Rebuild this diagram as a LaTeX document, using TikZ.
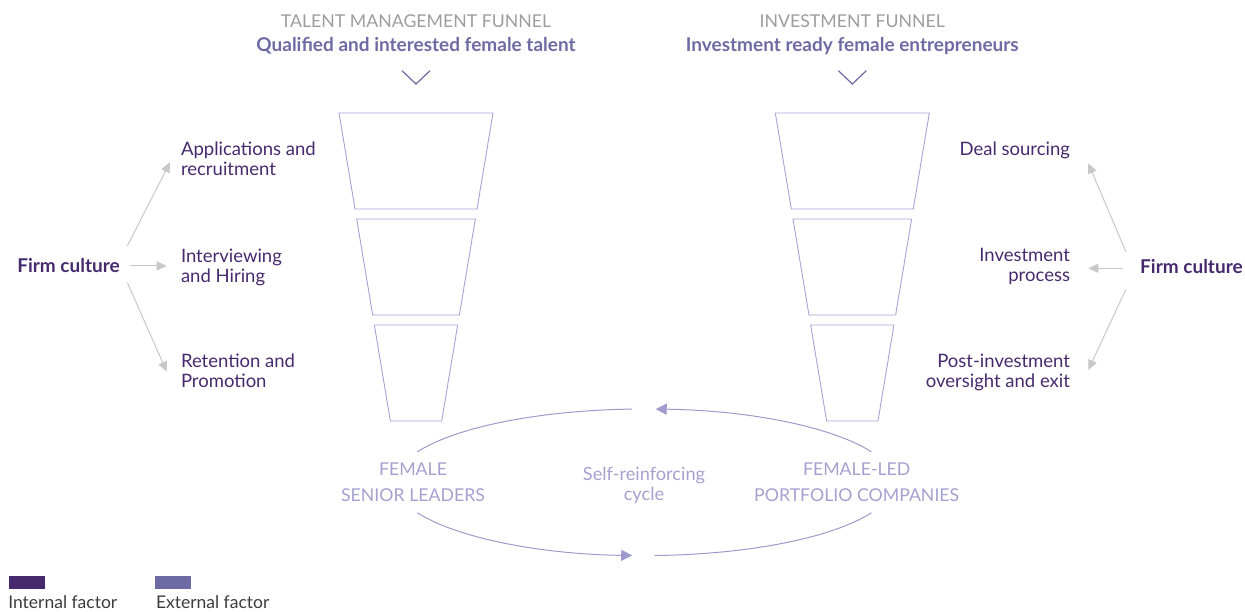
\documentclass[tikz,border=0pt]{standalone}
\usepackage{fontspec}
\setmainfont{Lato}
\usepackage{tikz}
\usetikzlibrary{arrows.meta,positioning}

\definecolor{intern}{HTML}{472A6E}
\definecolor{extern}{HTML}{6E6AA3}
\definecolor{funnel}{HTML}{A6A3D6}
\definecolor{cycline}{HTML}{9E9ACB}
\definecolor{cyctext}{HTML}{A4A1CF}
\definecolor{headgray}{HTML}{9D9D9D}
\definecolor{arrgray}{HTML}{C8C8C8}
\definecolor{legtext}{HTML}{3C3C3C}

\begin{document}
\begin{tikzpicture}[x=1pt,y=1pt,node distance=106pt,on grid,
    every node/.style={inner sep=0pt,outer sep=0pt},
    stage/.style={draw=funnel,line width=0.9pt,line join=miter},
    head/.style={font=\fontsize{17.7}{20}\selectfont,text=headgray,anchor=base},
    sub/.style={font=\fontsize{19}{20}\selectfont\bfseries,text=extern,anchor=base},
    lab/.style={font=\fontsize{18.5}{20}\selectfont,text=intern,align=left,anchor=base west},
    rlab/.style={font=\fontsize{18.5}{20}\selectfont,text=intern,align=right,anchor=base east},
    culture/.style={font=\fontsize{19}{20}\selectfont\bfseries,text=intern},
    cyclab/.style={font=\fontsize{17.7}{25.7}\selectfont,text=cyctext,align=center,anchor=base},
    garrow/.style={draw=arrgray,line width=1pt,-{Triangle[length=10pt,width=9pt]}},
    cyc/.style={draw=cycline,line width=1pt},
    cycarrow/.style={cyc,-{Triangle[length=11pt,width=11pt]}},
    chev/.style={draw=extern,line width=1.2pt},
    legbox/.style={minimum width=36pt,minimum height=12.7pt},
    legtxt/.style={font=\fontsize{17.5}{20}\selectfont,text=legtext,anchor=base west}]
    \useasboundingbox (0,0) rectangle (1245,612);

    % headings
    \node[head] (tmHead) at (416,584.3) {TALENT MANAGEMENT FUNNEL};
    \node[sub] (tmSub) [below=24pt of tmHead.base,anchor=base] {Qualified and interested female talent};
    \node[head] (ivHead) at (852.3,584.3) {INVESTMENT FUNNEL};
    \node[sub] (ivSub) [below=24pt of ivHead.base,anchor=base] {Investment ready female entrepreneurs};

    % funnels
    \coordinate (tmTop) at (416,499);
    \coordinate (ivTop) at (852.3,499);
    \foreach \f in {tmTop,ivTop}{
      \foreach \i in {0,1,2}{
        \pgfmathsetmacro\yt{-106*\i}
        \pgfmathsetmacro\wt{77-17.667*\i}
        \pgfmathsetmacro\wb{\wt-16}
        \draw[stage] ([shift={(-\wt,\yt)}]\f) -- ([shift={(\wt,\yt)}]\f)
          -- ([shift={(\wb,\yt-96)}]\f) -- ([shift={(-\wb,\yt-96)}]\f) -- cycle;
      }
      \draw[chev] ([shift={(-14,42.3)}]\f) -- ([shift={(0,29)}]\f) -- ([shift={(14,42.3)}]\f);
    }

    % left side
    \node[culture,anchor=base west] (fcL) at (17.3,339.7) {Firm culture};
    \node[lab] (appL) at (181,436.3) {Applications and\\recruitment};
    \node[lab] (hirL) at (181,329.7) {Interviewing\\and Hiring};
    \node[lab] (retL) at (181,224.7) {Retention and\\Promotion};
    \draw[garrow] ([shift={(7.6,26.6)}]fcL.base east) -- ([shift={(-11,13.4)}]appL.base west);
    \draw[garrow] ([shift={(10.6,6.3)}]fcL.base east) -- ([shift={(-14.3,16.3)}]hirL.base west);
    \draw[garrow] ([shift={(7.6,-10.4)}]fcL.base east) -- ([shift={(-14.3,15.6)}]retL.base west);

    % right side
    \node[culture,anchor=base east] (fcR) at (1242.7,338) {Firm culture};
    \node[rlab] (dealL) at (1070,456) {Deal sourcing};
    \node[rlab] (procL) at (1070,330.3) {Investment\\process};
    \node[rlab] (postL) at (1070,224.3) {Post-investment\\oversight and exit};
    \draw[garrow] ([shift={(-14.3,22.3)}]fcR.base west) -- ([shift={(18.3,-7.3)}]dealL.base east);
    \draw[garrow] ([shift={(-16.7,5.7)}]fcR.base west) -- ([shift={(18.3,13.4)}]procL.base east);
    \draw[garrow] ([shift={(-14.3,-15.3)}]fcR.base west) -- ([shift={(18.3,17.7)}]postL.base east);

    % cycle
    \coordinate (cyc) at (644.4,129.7);
    \draw[cycarrow] ([shift={(24.6:249.6 and 73.3)}]cyc) arc[start angle=24.6,end angle=87.4,x radius=249.6,y radius=73.3];
    \draw[cyc] ([shift={(92.85:249.6 and 73.3)}]cyc) arc[start angle=92.85,end angle=155.4,x radius=249.6,y radius=73.3];
    \draw[cycarrow] ([shift={(204.6:249.6 and 73.3)}]cyc) arc[start angle=204.6,end angle=267.2,x radius=249.6,y radius=73.3];
    \draw[cyc] ([shift={(272.4:249.6 and 73.3)}]cyc) arc[start angle=272.4,end angle=335.4,x radius=249.6,y radius=73.3];
    \node[cyclab] (fsl) at (413,110.3) {FEMALE\\SENIOR LEADERS};
    \node[cyclab] (flp) at (856.7,110.3) {FEMALE-LED\\PORTFOLIO COMPANIES};
    \node[cyclab,font=\fontsize{18.2}{20}\selectfont] (src) at (644,111) {Self-reinforcing\\cycle};

    % legend
    \node[legbox,fill=intern] (intBox) at (27,29.65) {};
    \node[legtxt] (intTxt) at (8.3,3) {Internal factor};
    \node[legbox,fill=extern] (extBox) at (173,29.65) {};
    \node[legtxt] (extTxt) at (156,3) {External factor};
\end{tikzpicture}
\end{document}
